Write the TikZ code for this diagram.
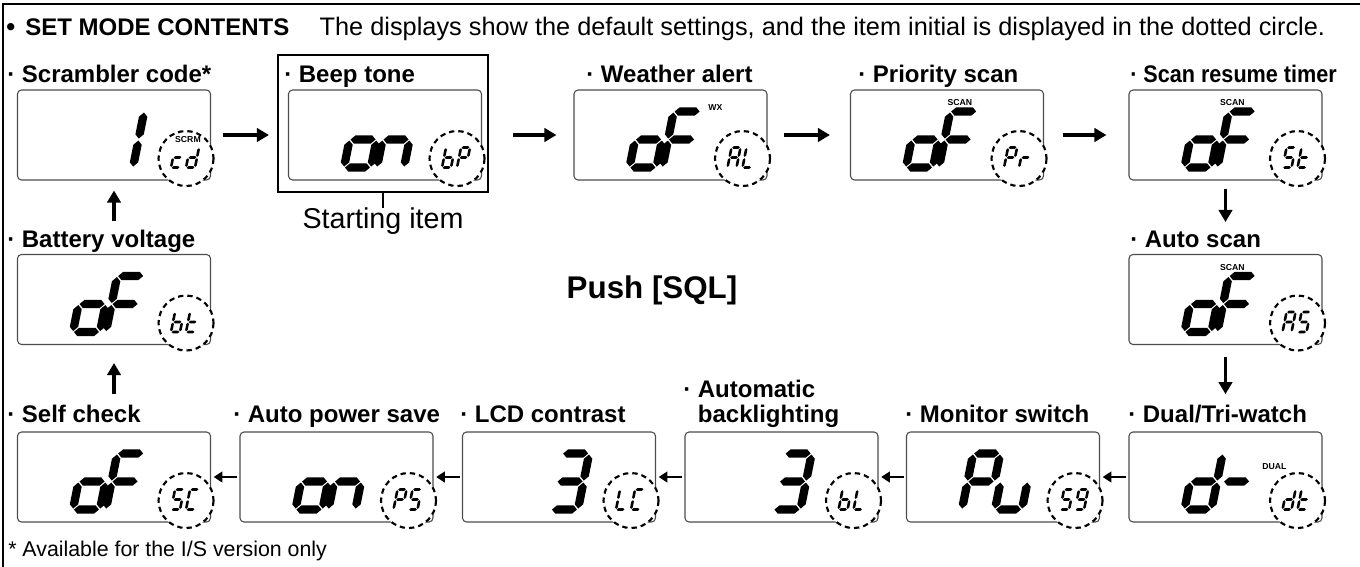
\documentclass[tikz,border=0pt]{standalone}
\usepackage{fontspec}
\setmainfont{Liberation Sans}
\usetikzlibrary{arrows.meta,calc,positioning}

% one segment of a seven segment cell (a..g)
\newcommand{\hseg}[1]{\fill (\segg,#1) -- ++(\segk,\segk) -- ({\segw-\segg-\segk},{#1+\segk}) -- ({\segw-\segg},#1) -- ({\segw-\segg-\segk},{#1-\segk}) -- ({\segg+\segk},{#1-\segk}) -- cycle;}
\newcommand{\vseg}[3]{\fill (#1,{#2+\segg}) -- ++(\segk,\segk) -- ({#1+\segk},{#3-\segg-\segk}) -- (#1,{#3-\segg}) -- ({#1-\segk},{#3-\segg-\segk}) -- ({#1-\segk},{#2+\segg+\segk}) -- cycle;}
\newcommand{\lcdseg}[1]{%
  \if#1a\hseg{\segt}\fi
  \if#1b\vseg{\segw}{\segm}{\segt}\fi
  \if#1c\vseg{\segw}{0}{\segm}\fi
  \if#1d\hseg{0}\fi
  \if#1e\vseg{0}{0}{\segm}\fi
  \if#1f\vseg{0}{\segm}{\segt}\fi
  \if#1g\hseg{\segm}\fi}
\newcommand{\segchar}[2]{%
  \begin{scope}[shift={#1}, x=0.75pt, y=0.75pt, xslant=0.2]
    \foreach \s in {#2}{\lcdseg{\s}}
  \end{scope}}
\newcommand{\bigch}{\def\segw{27}\def\segm{28}\def\segt{56}\def\segk{4.2}\def\segg{1}\segchar}
\newcommand{\smallch}{\def\segw{9}\def\segm{10}\def\segt{20}\def\segk{1.3}\def\segg{0.7}\segchar}

% name, centre, big digits, initials in the dotted ring
\newcommand{\lcdpanel}[6]{%
  \node[lcd] (#1) at #2 {};
  \bigch{($(#1.south west)+(56,-13)$)}{#3}
  \bigch{($(#1.south west)+(89,-13)$)}{#4}
  \draw[dotring] ($(#1.south east)+(-25,-22)$) circle (27.5);
  \smallch{($(#1.south east)+(-40,-13)$)}{#5}
  \smallch{($(#1.south east)+(-25,-13)$)}{#6}}

\tikzset{
  lcd/.style={draw=black!70, line width=0.8pt, rounded corners=3pt, minimum width=144.75pt, minimum height=67.5pt, inner sep=0pt},
  dotring/.style={draw, fill=white, line width=1.6pt, dash pattern=on 4pt off 3pt},
  ttl/.style={font=\fontsize{18}{20}\selectfont\bfseries, anchor=base west, inner sep=0pt},
  ind/.style={font=\fontsize{6.5}{7}\selectfont\bfseries, inner sep=0pt},
  arr/.style={line width=2.4pt, -{Triangle[length=9pt,width=10pt]}},
  arrs/.style={line width=2pt, -{Triangle[length=6.5pt,width=8pt]}},
}

\begin{document}
\begin{tikzpicture}[x=0.75pt, y=-0.75pt]
\useasboundingbox (0,0) rectangle (1360,567);
\draw[line width=1pt] (1360,4) -- (3,4) -- (3,567);
\node[anchor=base west, inner sep=0pt, font=\fontsize{19}{21}\selectfont] (head) at (6,36)
  {\textbf{\textbullet}\hspace{0.4em}{\fontsize{18}{20}\selectfont\bfseries SET MODE CONTENTS}\hspace{1.2em}The displays show the default settings, and the item initial is displayed in the dotted circle.};

\node[draw, line width=1.6pt, minimum width=157.5pt, minimum height=102.75pt, inner sep=0pt] (beepbox) at (383,123.5) {};

% top row
\lcdpanel{scr}{(114,135)}{z}{b,c}{d,e,g}{b,c,d,e,g}
\lcdpanel{beep}{(385,135)}{c,d,e,g}{c,e,g}{c,d,e,f,g}{a,b,e,f,g}
\lcdpanel{wx}{(670.5,135)}{c,d,e,g}{a,e,f,g}{a,b,c,e,f,g}{d,e,f}
\lcdpanel{pri}{(947,135)}{c,d,e,g}{a,e,f,g}{a,b,e,f,g}{e,g}
\lcdpanel{srt}{(1225.5,135)}{c,d,e,g}{a,e,f,g}{a,c,d,f,g}{d,e,f,g}
% middle row
\lcdpanel{bat}{(114,299.5)}{c,d,e,g}{a,e,f,g}{c,d,e,f,g}{d,e,f,g}
\lcdpanel{asc}{(1225.5,299.5)}{c,d,e,g}{a,e,f,g}{a,b,c,e,f,g}{a,c,d,f,g}
% bottom row
\lcdpanel{slf}{(114,477)}{c,d,e,g}{a,e,f,g}{a,c,d,f,g}{a,d,e,f}
\lcdpanel{aps}{(336.5,477)}{c,d,e,g}{c,e,g}{a,b,e,f,g}{a,c,d,f,g}
\lcdpanel{lcdc}{(559,477)}{z}{a,b,c,d,g}{d,e,f}{a,d,e,f}
\lcdpanel{bkl}{(781.5,477)}{z}{a,b,c,d,g}{c,d,e,f,g}{d,e,f}
\lcdpanel{mon}{(1003,477)}{a,b,e,f,g}{c,d,e}{a,c,d,f,g}{a,b,c,d,f,g}
\lcdpanel{dtw}{(1225.5,477)}{b,c,d,e,g}{g}{b,c,d,e,g}{d,e,f,g}

% indicators
\node[ind] (scrm) at ($(scr.north west)+(171,50)$) {SCRM};
\node[ind] (wxi) at ($(wx.north west)+(142,18)$) {WX};
\node[ind] (scan1) at ($(pri.north west)+(110,13)$) {SCAN};
\node[ind] (scan2) at ($(srt.north west)+(104,13)$) {SCAN};
\node[ind] (scan3) at ($(asc.north west)+(104,14)$) {SCAN};
\node[ind] (duali) at ($(dtw.north west)+(146,35)$) {DUAL};

% titles
\node[ttl] (t-scr) at (7,83) {· Scrambler code*};
\node[ttl] (t-beep) at (284,83) {· Beep tone};
\node[ttl] (t-wx) at (586,83) {· Weather alert};
\node[ttl] (t-pri) at (858,83) {· Priority scan};
\node[ttl] (t-srt) at (1130,83) {\scalebox{0.9}[1]{· Scan resume timer}};
\node[ttl] (t-bat) at (7,247) {· Battery voltage};
\node[ttl] (t-asc) at (1130,247) {· Auto scan};
\node[ttl] (t-slf) at (7,422) {· Self check};
\node[ttl] (t-aps) at (233,422) {· Auto power save};
\node[ttl] (t-lcdc) at (460,422) {· LCD contrast};
\node[ttl] (t-bkl) at (683,397) {· Automatic};
\node[ttl] (t-bkl2) at (683,422) {\phantom{·\ }backlighting};
\node[ttl] (t-mon) at (905,422) {· Monitor switch};
\node[ttl] (t-dtw) at (1128,422) {· Dual/Tri-watch};

\node[below=11pt of beepbox, inner sep=0pt, font=\fontsize{21.5}{23}\selectfont] (start) {Starting item};
\draw[line width=1.2pt] (beepbox) -- (start);
\node[anchor=base, inner sep=0pt, font=\fontsize{23.5}{25}\selectfont\bfseries] (push) at (652,298) {Push [SQL]};
\node[anchor=base west, inner sep=0pt, font=\fontsize{16}{18}\selectfont] (fn) at (8,556) {* Available for the I/S version only};

% order of the items
\draw[arr, shorten <=9pt, shorten >=6pt] (scr.east) -- (scr.east -| beepbox.west);
\draw[arr, shorten <=18pt, shorten >=12.75pt] (wx.west -| beepbox.east) -- (wx.west);
\draw[arr, shorten <=12pt, shorten >=15pt] (wx) -- (pri);
\draw[arr, shorten <=14pt, shorten >=16.5pt] (pri) -- (srt);
\draw[arr, shorten <=6pt, shorten >=24pt] (srt) -- (asc);
\draw[arr, shorten <=9pt, shorten >=28pt] (asc) -- (dtw);
\draw[arrs, shorten <=1.5pt, shorten >=2pt] (dtw) -- (mon);
\draw[arrs, shorten <=1.5pt, shorten >=2pt] (mon) -- (bkl);
\draw[arrs, shorten <=1.5pt, shorten >=2pt] (bkl) -- (lcdc);
\draw[arrs, shorten <=1.5pt, shorten >=2pt] (lcdc) -- (aps);
\draw[arrs, shorten <=1.5pt, shorten >=2pt] (aps) -- (slf);
\draw[arr, shorten <=28pt, shorten >=13.5pt] (slf) -- (bat);
\draw[arr, shorten <=25pt, shorten >=7.5pt] (bat) -- (scr);
\end{tikzpicture}
\end{document}
